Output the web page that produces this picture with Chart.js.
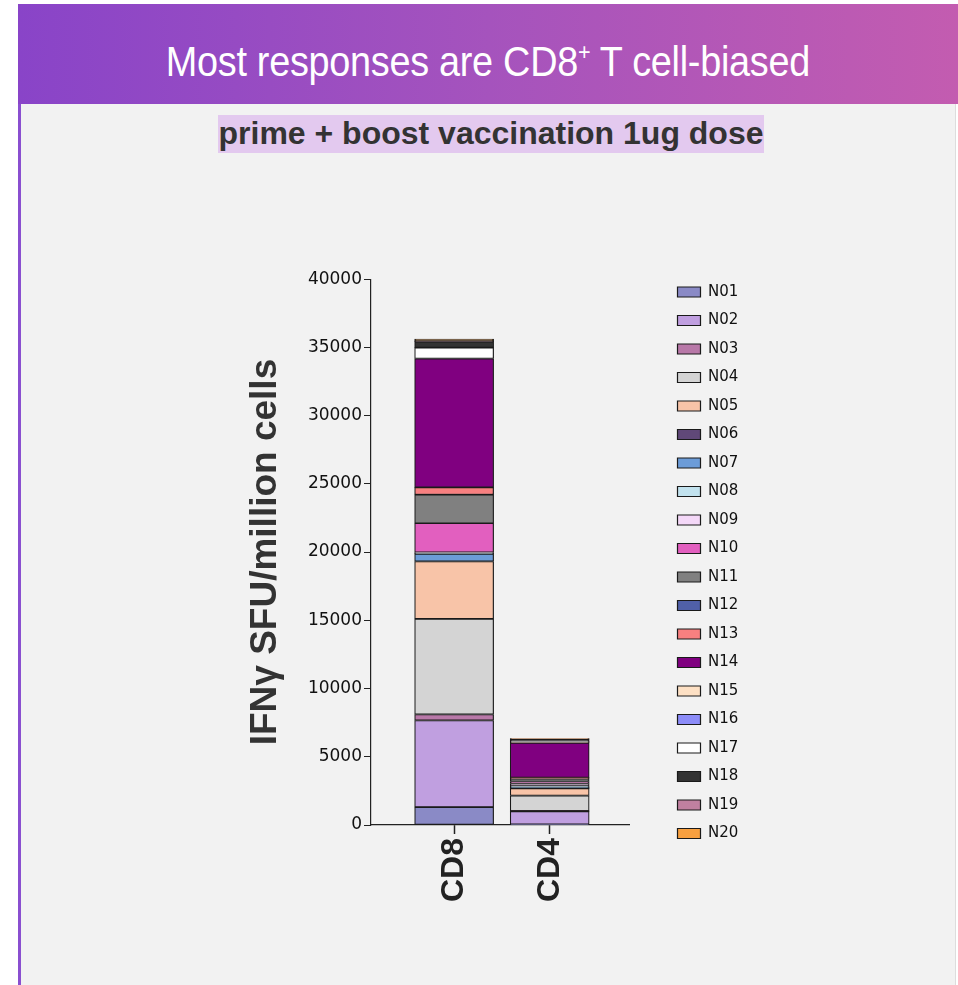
<!DOCTYPE html>
<html>
<head>
<meta charset="utf-8">
<script src="https://cdn.jsdelivr.net/npm/chart.js@4.4.1/dist/chart.umd.min.js"></script>
<style>
  body { margin: 0; background: #fff; width: 958px; height: 985px; overflow: hidden; position: relative; }
  .header {
    position: absolute; left: 18px; top: 4px; width: 940px; height: 100px;
    background: linear-gradient(90deg, #8944c8 0%, #a553bd 50%, #c35cb0 100%);
    color: #fff; text-align: center;
    font-family: "Liberation Sans", Arial, sans-serif;
  }
  .header span {
    display: inline-block; font-size: 42px; line-height: 42px; margin-top: 37px;
    transform: scaleX(0.9); letter-spacing: -0.3px;
  }
  .header sup { font-size: 24px; vertical-align: 0; position: relative; top: -16px; }
  .panel {
    position: absolute; left: 18px; top: 104px; width: 934px; height: 881px;
    background: #f2f2f2; border-left: 3px solid #8a4fd0; border-right: 1px solid #ddd;
  }
  .sub {
    position: absolute; left: 218px; top: 115px; width: 546px; height: 38px;
    background: #e3c9ef; color: #333; text-align: center; white-space: nowrap;
    font-family: "Liberation Sans", Arial, sans-serif; font-weight: bold;
    font-size: 32px; line-height: 37px;
  }
  #wrap { position: absolute; left: 230px; top: 255px; width: 560px; height: 670px; }
</style>
</head>
<body>
<div class="header"><span>Most responses are CD8<sup>+</sup> T cell-biased</span></div>
<div class="panel"></div>
<div class="sub">prime + boost vaccination 1ug dose</div>
<div id="wrap"><canvas id="barChart"></canvas></div>
<script>
// categories on the x axis (placed at x = 1, 2)
const categories = ['CD8', 'CD4'];
const categoryPos = [1, 2];

// peptide pools
const poolNames = ['N01','N02','N03','N04','N05','N06','N07','N08','N09','N10',
                   'N11','N12','N13','N14','N15','N16','N17','N18','N19','N20'];
const poolColors = ['#8a8ac6','#c09fe0','#b878a8','#d4d4d4','#f8c4a8','#604878','#6c9cd8','#c2e2ee','#f4d8f8','#e25fbf',
                    '#808080','#5060a8','#f88080','#800080','#fde0c4','#8c8cf8','#ffffff','#333333','#c080a0','#f8a040'];

// IFNg SFU/million cells per pool
const cd8Values = [1310, 6350, 440, 7000, 4210, 0, 560, 50, 50, 2140,
                   2090, 0, 540, 9440, 0, 0, 800, 440, 50, 140];
const cd4Values = [50, 950, 40, 1120, 520, 20, 40, 100, 200, 150,
                   200, 0, 80, 2550, 50, 0, 60, 150, 30, 20];

const yTicks = [0, 5000, 10000, 15000, 20000, 25000, 30000, 35000, 40000];

const datasets = poolNames.map((name, i) => ({
    label: name,
    data: [
        { x: categoryPos[0], y: cd8Values[i] },
        { x: categoryPos[1], y: cd4Values[i] }
    ],
    backgroundColor: poolColors[i],
    borderColor: '#1a1a1a',
    borderWidth: 1.2,
    borderSkipped: false,
    barThickness: 79
}));

const ctx = document.getElementById('barChart').getContext('2d');
const chart = new Chart(ctx, {
    type: 'bar',
    data: { datasets: datasets },
    options: {
        responsive: true,
        maintainAspectRatio: false,
        animation: false,
        layout: { padding: { top: 16, left: 14, right: 42, bottom: 0 } },
        plugins: {
            legend: {
                position: 'right',
                align: 'start',
                labels: {
                    boxWidth: 23,
                    boxHeight: 10,
                    padding: 13.5,
                    color: '#111',
                    font: { family: 'DejaVu Sans', size: 15 }
                }
            },
            tooltip: { enabled: false }
        },
        scales: {
            x: {
                type: 'linear',
                stacked: true,
                offset: false,
                min: 0.13,
                max: 2.83,
                afterBuildTicks: scale => { scale.ticks = categoryPos.map(v => ({ value: v })); },
                afterFit: scale => { scale.height = 100; },
                grid: { display: true, offset: false, drawOnChartArea: false, tickLength: 9, color: '#222', tickWidth: 1.5 },
                border: { color: '#222', width: 1.2 },
                ticks: {
                    minRotation: 90, maxRotation: 90,
                    padding: 4,
                    color: '#222',
                    font: { family: 'Liberation Sans', size: 32, weight: 'bold' },
                    callback: v => categories[categoryPos.indexOf(v)]
                }
            },
            y: {
                stacked: true,
                min: 0,
                max: 40000,
                afterBuildTicks: scale => { scale.ticks = yTicks.map(v => ({ value: v })); },
                afterFit: scale => { scale.width = 127; },
                grid: { display: true, drawOnChartArea: false, tickLength: 7, color: '#222', tickWidth: 1 },
                border: { color: '#222', width: 1.2 },
                ticks: {
                    color: '#111',
                    padding: 2,
                    font: { family: 'DejaVu Sans', size: 17, lineHeight: 2.6 },
                    callback: v => String(v)
                },
                title: {
                    display: true,
                    text: 'IFNγ SFU/million cells',
                    color: '#333',
                    padding: 0,
                    font: { family: 'Liberation Sans', size: 37, weight: 'bold' }
                }
            },
            // empty spacer between the plot and the legend
            gap: {
                type: 'linear',
                position: 'right',
                display: true,
                afterFit: scale => { scale.width = 35; },
                grid: { display: false },
                border: { display: false },
                ticks: { display: false }
            }
        }
    }
});
</script>
</body>
</html>
